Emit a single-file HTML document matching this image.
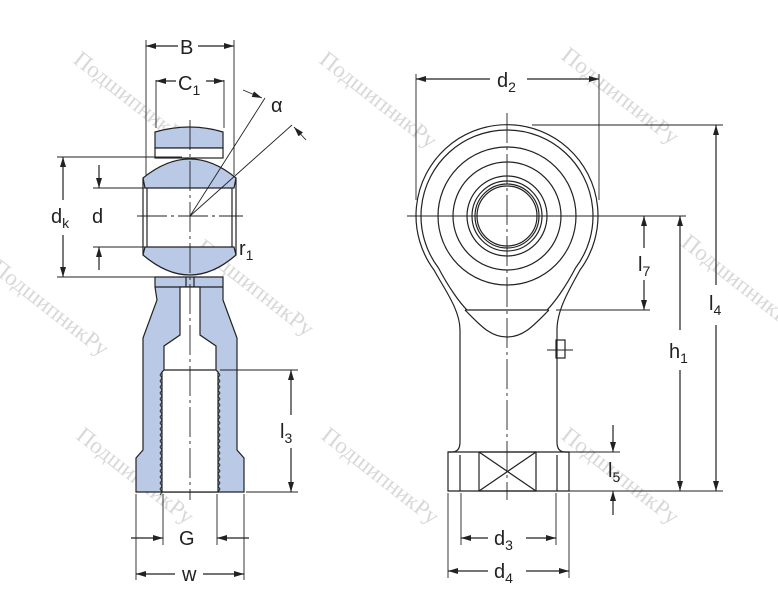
<!DOCTYPE html>
<html><head><meta charset="utf-8"><style>
html,body{margin:0;padding:0;background:#fff;}
svg{display:block;}
text{font-family:"Liberation Sans",sans-serif;fill:#222;}
.wm{font-family:"Liberation Serif","DejaVu Serif",serif;font-size:23px;fill:#d8d8d8;}
</style></head><body>
<svg width="778" height="610" viewBox="0 0 778 610" xmlns="http://www.w3.org/2000/svg">
<defs>
<marker id="a" viewBox="0 0 10 6" refX="10" refY="3" markerWidth="10" markerHeight="6" orient="auto-start-reverse" markerUnits="userSpaceOnUse"><path d="M0,0 L10,3 L0,6 z" fill="#222"/></marker>
</defs>
<g>
<text class="wm" transform="translate(72,62) rotate(38)">ПодшипникРу</text>
<text class="wm" transform="translate(318,62) rotate(38)">ПодшипникРу</text>
<text class="wm" transform="translate(560,58) rotate(38)">ПодшипникРу</text>
<text class="wm" transform="translate(195,250) rotate(38)">ПодшипникРу</text>
<text class="wm" transform="translate(440,245) rotate(38)">ПодшипникРу</text>
<text class="wm" transform="translate(680,245) rotate(38)">ПодшипникРу</text>
<text class="wm" transform="translate(-10,270) rotate(38)">ПодшипникРу</text>
<text class="wm" transform="translate(75,438) rotate(38)">ПодшипникРу</text>
<text class="wm" transform="translate(320,438) rotate(38)">ПодшипникРу</text>
<text class="wm" transform="translate(560,438) rotate(38)">ПодшипникРу</text>
</g>
<g stroke="#222" stroke-width="1.2" fill="none">
<!-- LEFT VIEW -->
<path d="M155,132 Q190,122 223,132 L223,148 L155,148 Z" fill="#b9c9e6"/>
<rect x="155" y="148" width="68" height="10" fill="#fff"/>
<path d="M143,178 Q190,140 236,178 L234,188 L145,188 Z" fill="#b9c9e6"/>
<path d="M145,247 L234,247 L236,255 Q190,295 143,255 Z" fill="#b9c9e6"/>
<line x1="147" y1="188" x2="147" y2="247"/>
<line x1="232" y1="188" x2="232" y2="247"/>
<line x1="143" y1="178" x2="143" y2="255"/>
<line x1="236" y1="178" x2="236" y2="255"/>
<path d="M155,277 L223,277 L223,287 L223,300 L237,338 L237,450 L244,458 L244,492 L136,492 L136,458 L143,450 L143,338 L157,300 L155,287 Z" fill="#b9c9e6"/>
<line x1="155" y1="287" x2="223" y2="287"/>
<path d="M180,287 L200,287 L200,335 L216,346 L216,370 L218,372 L218,492 L162,492 L162,372 L164,370 L164,346 L180,335 Z" fill="#fff"/>
<line x1="164" y1="370" x2="216" y2="370"/>
<line x1="186" y1="277" x2="186" y2="287"/><line x1="194" y1="277" x2="194" y2="287"/>
<path d="M162,372 l-2,3 l2,3 l-2,3 l2,3 l-2,3 l2,3 l-2,3 l2,3 l-2,3 l2,3 l-2,3 l2,3 l-2,3 l2,3 l-2,3 l2,3 l-2,3 l2,3 l-2,3 l2,3 l-2,3 l2,3 l-2,3 l2,3 l-2,3 l2,3 l-2,3 l2,3 l-2,3 l2,3 l-2,3 l2,3 l-2,3 l2,3 l-2,3 l2,3 l-2,3 l2,3 l-2,3 l2,3 l-2,3" stroke-width="0.9"/>
<path d="M218,372 l2,3 l-2,3 l2,3 l-2,3 l2,3 l-2,3 l2,3 l-2,3 l2,3 l-2,3 l2,3 l-2,3 l2,3 l-2,3 l2,3 l-2,3 l2,3 l-2,3 l2,3 l-2,3 l2,3 l-2,3 l2,3 l-2,3 l2,3 l-2,3 l2,3 l-2,3 l2,3 l-2,3 l2,3 l-2,3 l2,3 l-2,3 l2,3 l-2,3 l2,3 l-2,3 l2,3 l-2,3" stroke-width="0.9"/>
<line x1="190" y1="120" x2="190" y2="500" stroke-dasharray="30,4,3,4" stroke-width="0.9"/>
<line x1="137" y1="216" x2="243" y2="216" stroke-dasharray="30,4,3,4" stroke-width="0.9"/>
<line x1="190" y1="216" x2="265" y2="98" stroke-width="0.9"/>
<line x1="190" y1="216" x2="292" y2="125" stroke-width="0.9"/>
<line x1="243" y1="90" x2="262" y2="98" marker-end="url(#a)" stroke-width="0.9"/>
<line x1="306" y1="140" x2="294" y2="127" marker-end="url(#a)" stroke-width="0.9"/>
<line x1="146" y1="40" x2="146" y2="175" stroke-width="0.9"/>
<line x1="234" y1="40" x2="234" y2="175" stroke-width="0.9"/>
<line x1="156" y1="80" x2="156" y2="128" stroke-width="0.9"/>
<line x1="224" y1="80" x2="224" y2="128" stroke-width="0.9"/>
<line x1="146" y1="46" x2="178" y2="46" marker-start="url(#a)"/>
<line x1="198" y1="46" x2="234" y2="46" marker-end="url(#a)"/>
<line x1="156" y1="81" x2="176" y2="81" marker-start="url(#a)"/>
<line x1="206" y1="81" x2="224" y2="81" marker-end="url(#a)"/>
<line x1="57" y1="157" x2="182" y2="157" stroke-width="0.9"/>
<line x1="57" y1="277" x2="175" y2="277" stroke-width="0.9"/>
<line x1="93" y1="188" x2="147" y2="188" stroke-width="0.9"/>
<line x1="93" y1="247" x2="147" y2="247" stroke-width="0.9"/>
<line x1="63" y1="157" x2="63" y2="200" marker-start="url(#a)"/>
<line x1="63" y1="235" x2="63" y2="277" marker-end="url(#a)"/>
<line x1="99" y1="165" x2="99" y2="188" marker-end="url(#a)"/>
<line x1="99" y1="270" x2="99" y2="247" marker-end="url(#a)"/>
<line x1="220" y1="370" x2="298" y2="370" stroke-width="0.9"/>
<line x1="246" y1="492" x2="298" y2="492" stroke-width="0.9"/>
<line x1="291" y1="370" x2="291" y2="415" marker-start="url(#a)"/>
<line x1="291" y1="448" x2="291" y2="492" marker-end="url(#a)"/>
<line x1="136" y1="494" x2="136" y2="580" stroke-width="0.9"/>
<line x1="244" y1="494" x2="244" y2="580" stroke-width="0.9"/>
<line x1="163" y1="494" x2="163" y2="545" stroke-width="0.9"/>
<line x1="217" y1="494" x2="217" y2="545" stroke-width="0.9"/>
<line x1="131" y1="538" x2="163" y2="538" marker-end="url(#a)"/>
<line x1="249" y1="538" x2="217" y2="538" marker-end="url(#a)"/>
<line x1="136" y1="574" x2="175" y2="574" marker-start="url(#a)"/>
<line x1="203" y1="574" x2="244" y2="574" marker-end="url(#a)"/>

<!-- RIGHT VIEW -->
<path d="M434,270 A91,91 0 1 1 580,270 C569,290 557,310 557,330 L557,442 Q557,452 565,452 L569,452 L569,491 L448,491 L448,452 L452,452 Q460,452 460,442 L460,330 C460,310 445,290 434,270 Z" fill="#fff"/>
<path d="M467,310 C460,303 449,288 438.5,268 A86,86 0 1 1 575.5,268 C565,288 554,303 547,310"/>
<path d="M465,310 C480,325 490,337 507,337 C524,337 534,325 549,310"/>
<line x1="465" y1="310" x2="549" y2="310"/>
<circle cx="507" cy="216" r="69"/>
<circle cx="507" cy="216" r="54"/>
<circle cx="507" cy="216" r="40"/>
<circle cx="507" cy="216" r="35"/>
<circle cx="507" cy="216" r="32"/>
<circle cx="507" cy="216" r="30"/>
<line x1="448" y1="452" x2="569" y2="452"/>
<rect x="479" y="452" width="57" height="39"/>
<line x1="479" y1="452" x2="536" y2="491"/><line x1="536" y1="452" x2="479" y2="491"/>
<line x1="460" y1="455" x2="460" y2="491"/><line x1="557" y1="455" x2="557" y2="491"/>
<rect x="556" y="340" width="9" height="18"/>
<line x1="547" y1="350" x2="573" y2="350" stroke-width="0.9"/>
<line x1="507" y1="113" x2="507" y2="500" stroke-dasharray="30,4,3,4" stroke-width="0.9"/>
<line x1="407" y1="216" x2="600" y2="216" stroke-width="0.9"/>
<line x1="416" y1="74" x2="416" y2="200" stroke-width="0.9"/>
<line x1="599" y1="74" x2="599" y2="200" stroke-width="0.9"/>
<line x1="416" y1="79" x2="490" y2="79" marker-start="url(#a)"/>
<line x1="527" y1="79" x2="599" y2="79" marker-end="url(#a)"/>
<line x1="532" y1="125" x2="723" y2="125" stroke-width="0.9"/>
<line x1="590" y1="216" x2="686" y2="216" stroke-width="0.9"/>
<line x1="556" y1="310" x2="650" y2="310" stroke-width="0.9"/>
<line x1="569" y1="452" x2="620" y2="452" stroke-width="0.9"/>
<line x1="569" y1="491" x2="723" y2="491" stroke-width="0.9"/>
<line x1="716" y1="125" x2="716" y2="285" marker-start="url(#a)"/>
<line x1="716" y1="325" x2="716" y2="491" marker-end="url(#a)"/>
<line x1="680" y1="216" x2="680" y2="330" marker-start="url(#a)"/>
<line x1="680" y1="370" x2="680" y2="491" marker-end="url(#a)"/>
<line x1="644" y1="216" x2="644" y2="248" marker-start="url(#a)"/>
<line x1="644" y1="280" x2="644" y2="310" marker-end="url(#a)"/>
<line x1="613" y1="425" x2="613" y2="452" marker-end="url(#a)"/>
<line x1="613" y1="515" x2="613" y2="491" marker-end="url(#a)"/>
<line x1="448" y1="493" x2="448" y2="578" stroke-width="0.9"/>
<line x1="569" y1="493" x2="569" y2="578" stroke-width="0.9"/>
<line x1="461" y1="493" x2="461" y2="545" stroke-width="0.9"/>
<line x1="556" y1="493" x2="556" y2="545" stroke-width="0.9"/>
<line x1="461" y1="538" x2="488" y2="538" marker-start="url(#a)"/>
<line x1="526" y1="538" x2="556" y2="538" marker-end="url(#a)"/>
<line x1="448" y1="571" x2="488" y2="571" marker-start="url(#a)"/>
<line x1="526" y1="571" x2="569" y2="571" marker-end="url(#a)"/>
</g>
<g font-size="20">
<text x="180" y="54">B</text>
<text x="178" y="90">C<tspan font-size="14" dy="5">1</tspan></text>
<text x="271" y="112">α</text>
<text x="51" y="223">d<tspan font-size="14" dy="5">k</tspan></text>
<text x="92" y="223">d</text>
<text x="239" y="255">r<tspan font-size="14" dy="5">1</tspan></text>
<text x="280" y="438">l<tspan font-size="14" dy="5">3</tspan></text>
<text x="179" y="545">G</text>
<text x="182" y="581">w</text>
<text x="497" y="87">d<tspan font-size="14" dy="5">2</tspan></text>
<text x="709" y="310">l<tspan font-size="14" dy="5">4</tspan></text>
<text x="669" y="358">h<tspan font-size="14" dy="5">1</tspan></text>
<text x="638" y="271">l<tspan font-size="14" dy="5">7</tspan></text>
<text x="608" y="477">l<tspan font-size="14" dy="5">5</tspan></text>
<text x="494" y="545">d<tspan font-size="14" dy="5">3</tspan></text>
<text x="494" y="578">d<tspan font-size="14" dy="5">4</tspan></text>
</g>
</svg>
</body></html>
